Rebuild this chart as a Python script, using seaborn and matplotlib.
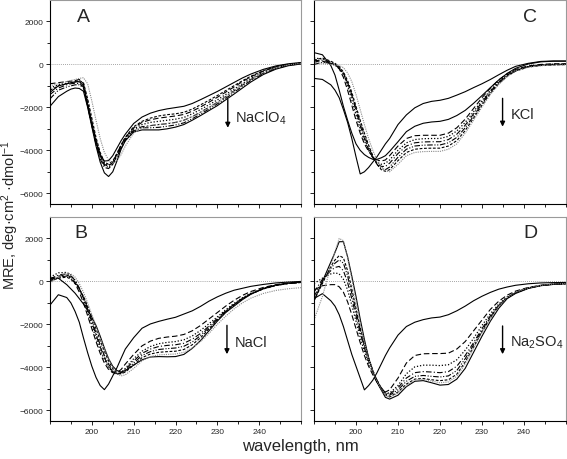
import matplotlib
matplotlib.use('Agg')
import matplotlib.pyplot as plt
import seaborn as sns

# wavelength grid (nm)
wl = [190, 192, 194, 195, 196, 197, 198, 199, 200, 201, 202, 203, 204, 205, 206, 207, 208,
      210, 212, 214, 216, 218, 220, 222, 224, 226, 228, 230, 232, 234, 236, 238,
      241, 244, 247, 250]

# Panel A - NaClO4
A_1 = [-1300, -1000, -900, -850, -820, -800, -1000, -1900, -2800, -3600, -4200, -4500, -4480, -4250, -3900, -3550, -3250,
       -2750, -2450, -2270, -2150, -2070, -2010, -1950, -1820, -1640, -1450, -1260, -1050, -840, -630, -450,
       -230, -70, 30, 90]
A_2 = [-1950, -1500, -1250, -1150, -1100, -1120, -1250, -2000, -2900, -3800, -4550, -5050, -5220, -5000, -4500, -3950, -3550,
       -3150, -3050, -3050, -3050, -3000, -2920, -2800, -2600, -2380, -2150, -1920, -1650, -1380, -1100, -820,
       -470, -220, -60, 20]
A_3 = [-900, -850, -800, -780, -750, -700, -900, -1800, -2700, -3550, -4250, -4650, -4750, -4550, -4150, -3750, -3400,
       -2950, -2700, -2580, -2500, -2450, -2400, -2330, -2180, -1980, -1760, -1530, -1290, -1050, -800, -580,
       -310, -110, 10, 60]
A_4 = [-1100, -950, -880, -850, -820, -800, -950, -1750, -2650, -3500, -4200, -4600, -4700, -4550, -4200, -3800, -3450,
       -3000, -2800, -2700, -2650, -2600, -2550, -2470, -2300, -2100, -1880, -1650, -1400, -1150, -900, -650,
       -360, -140, -10, 50]
A_5 = [-1400, -1100, -950, -900, -880, -900, -1050, -1900, -2800, -3700, -4400, -4800, -4850, -4650, -4250, -3850, -3500,
       -3050, -2900, -2850, -2800, -2760, -2700, -2600, -2430, -2220, -2000, -1760, -1500, -1230, -960, -700,
       -400, -170, -30, 40]
A_6 = [-1600, -1200, -1050, -1000, -950, -950, -1100, -1950, -2850, -3700, -4350, -4700, -4800, -4650, -4300, -3900, -3550,
       -3100, -2950, -2950, -2930, -2880, -2820, -2720, -2530, -2310, -2080, -1840, -1580, -1300, -1020, -750,
       -430, -190, -40, 30]
A_7 = [-1200, -1000, -900, -850, -800, -750, -850, -1600, -2500, -3400, -4100, -4550, -4650, -4500, -4150, -3750, -3400,
       -2900, -2650, -2500, -2400, -2340, -2300, -2230, -2080, -1880, -1670, -1450, -1220, -990, -760, -550,
       -290, -100, 10, 70]
A_8 = [-1000, -900, -800, -750, -700, -650, -620, -900, -1700, -2600, -3450, -4100, -4450, -4600, -4500, -4200, -3800,
       -3200, -2950, -2850, -2800, -2750, -2700, -2600, -2430, -2230, -2000, -1760, -1500, -1230, -960, -700,
       -390, -150, -20, 50]

# Panel B - NaCl
B_1 = [-1100, -620, -750, -1000, -1400, -1900, -2630, -3320, -3950, -4470, -4850, -5040, -4780, -4400, -4020, -3580, -3150,
       -2620, -2180, -1980, -1860, -1760, -1670, -1520, -1370, -1160, -920, -720, -550, -410, -320, -230,
       -140, -70, -30, 0]
B_2 = [120, 150, -150, -350, -550, -800, -1050, -1350, -1650, -2050, -2550, -3100, -3600, -3950, -4150, -4220, -4150,
       -3900, -3650, -3520, -3500, -3510, -3500, -3400, -3120, -2750, -2300, -1850, -1450, -1150, -850, -600,
       -330, -170, -80, -40]
B_3 = [150, 250, 300, 200, -100, -500, -1000, -1600, -2200, -2800, -3350, -3800, -4100, -4250, -4250, -4100, -3850,
       -3400, -3000, -2780, -2650, -2590, -2550, -2470, -2300, -2050, -1750, -1450, -1150, -880, -650, -470,
       -280, -150, -70, -30]
B_4 = [200, 400, 420, 300, 50, -350, -850, -1450, -2050, -2650, -3200, -3650, -4000, -4250, -4330, -4250, -4050,
       -3600, -3250, -3030, -2900, -2840, -2800, -2720, -2540, -2280, -1970, -1650, -1320, -1020, -760, -550,
       -330, -180, -90, -40]
B_5 = [100, 300, 350, 250, 50, -300, -750, -1300, -1900, -2500, -3050, -3550, -3950, -4200, -4300, -4250, -4100,
       -3700, -3350, -3150, -3030, -2980, -2950, -2880, -2690, -2420, -2080, -1720, -1370, -1060, -790, -570,
       -340, -180, -90, -40]
B_6 = [50, 200, 250, 150, -50, -350, -750, -1250, -1800, -2400, -2950, -3450, -3850, -4150, -4300, -4300, -4180,
       -3800, -3450, -3270, -3170, -3130, -3100, -3020, -2820, -2520, -2150, -1770, -1400, -1080, -800, -580,
       -340, -180, -90, -40]
B_7 = [0, 150, 200, 100, -100, -350, -700, -1150, -1650, -2200, -2750, -3250, -3700, -4050, -4250, -4300, -4220,
       -3900, -3550, -3380, -3300, -3270, -3250, -3170, -2950, -2620, -2220, -1800, -1420, -1090, -810, -590,
       -350, -190, -100, -50]
B_8 = [-100, 250, 380, 350, 200, -100, -500, -1000, -1550, -2100, -2650, -3150, -3600, -4000, -4300, -4400, -4350,
       -4050, -3700, -3500, -3420, -3400, -3380, -3300, -3100, -2800, -2420, -2000, -1620, -1280, -1000, -780,
       -560, -420, -340, -290]

# Panel C - KCl
C_1 = [-650, -700, -950, -1200, -1550, -2100, -2700, -3450, -4300, -5100, -5000, -4800, -4550, -4300, -4000, -3700, -3450,
       -2800, -2350, -2020, -1820, -1720, -1670, -1580, -1430, -1270, -1080, -900, -700, -480, -270, -90,
       50, 140, 160, 160]
C_2 = [550, 450, -50, -500, -1200, -1950, -2600, -3200, -3700, -4000, -4200, -4330, -4420, -4420, -4350, -4250, -4050,
       -3600, -3130, -2880, -2740, -2680, -2650, -2560, -2380, -2140, -1810, -1450, -1080, -720, -420, -180,
       20, 120, 150, 150]
C_3 = [200, 150, 50, 0, -200, -600, -1200, -1900, -2600, -3200, -3700, -4050, -4300, -4450, -4500, -4450, -4250,
       -3800, -3450, -3320, -3300, -3300, -3300, -3200, -2950, -2550, -2050, -1550, -1100, -720, -430, -230,
       -70, 0, 30, 30]
C_4 = [300, 250, 100, 0, -150, -450, -1000, -1650, -2350, -3000, -3550, -4000, -4350, -4550, -4650, -4600, -4450,
       -4000, -3650, -3500, -3460, -3450, -3450, -3350, -3100, -2700, -2200, -1680, -1200, -790, -480, -260,
       -90, -20, 10, 20]
C_5 = [100, 200, 100, 0, -150, -400, -850, -1450, -2150, -2850, -3450, -3950, -4350, -4600, -4750, -4750, -4600,
       -4150, -3800, -3650, -3610, -3600, -3600, -3500, -3250, -2830, -2300, -1750, -1250, -830, -500, -280,
       -100, -30, 0, 10]
C_6 = [0, 100, 50, -50, -200, -450, -850, -1400, -2050, -2700, -3300, -3850, -4300, -4650, -4850, -4900, -4780,
       -4320, -3950, -3800, -3760, -3750, -3750, -3650, -3400, -2950, -2400, -1830, -1300, -870, -530, -300,
       -110, -40, -10, 0]
C_7 = [200, 300, 150, 50, -100, -350, -750, -1300, -1950, -2600, -3200, -3750, -4250, -4650, -4900, -4980, -4900,
       -4480, -4100, -3950, -3910, -3900, -3900, -3800, -3550, -3080, -2500, -1900, -1350, -900, -550, -310,
       -120, -50, -20, -10]
C_8 = [100, 50, 0, 0, -50, -150, -400, -800, -1400, -2100, -2800, -3450, -4000, -4450, -4750, -4950, -5000,
       -4650, -4250, -4100, -4060, -4050, -4050, -3950, -3700, -3200, -2600, -1980, -1400, -930, -570, -320,
       -130, -60, -30, -20]

# Panel D - Na2SO4
D_1 = [-800, -570, -900, -1150, -1550, -2100, -2750, -3400, -3950, -4500, -5050, -4850, -4600, -4250, -3850, -3450, -3100,
       -2500, -2100, -1900, -1780, -1700, -1660, -1550, -1370, -1150, -900, -690, -510, -360, -260, -180,
       -110, -70, -55, -50]
D_2 = [-900, 0, 900, 1350, 1850, 1850, 1150, 250, -700, -1750, -2700, -3550, -4200, -4700, -5050, -5400, -5480,
       -5300, -4900, -4650, -4620, -4720, -4830, -4800, -4550, -4050, -3300, -2550, -1850, -1250, -800, -560,
       -330, -200, -140, -110]
D_3 = [-400, -200, -150, -150, -250, -500, -950, -1550, -2200, -2850, -3450, -3950, -4350, -4700, -5000, -5150, -5050,
       -4500, -3800, -3450, -3370, -3360, -3360, -3340, -3150, -2800, -2300, -1800, -1300, -920, -640, -450,
       -280, -180, -120, -100]
D_4 = [-100, 150, 350, 400, 350, 100, -400, -1100, -1850, -2600, -3250, -3800, -4250, -4650, -4950, -5200, -5200,
       -4850, -4300, -3980, -3900, -3900, -3920, -3880, -3650, -3200, -2650, -2050, -1500, -1050, -720, -500,
       -300, -190, -130, -100]
D_5 = [-500, 100, 500, 650, 700, 500, -50, -800, -1600, -2400, -3100, -3700, -4200, -4600, -4950, -5200, -5250,
       -4950, -4500, -4250, -4200, -4220, -4250, -4200, -3950, -3450, -2850, -2200, -1600, -1100, -750, -520,
       -310, -190, -130, -100]
D_6 = [-700, 0, 600, 850, 1000, 850, 250, -550, -1400, -2250, -3000, -3600, -4150, -4600, -4950, -5250, -5300,
       -5050, -4650, -4420, -4380, -4420, -4450, -4400, -4150, -3600, -2950, -2280, -1650, -1120, -760, -530,
       -310, -190, -130, -100]
D_7 = [-900, -100, 700, 1000, 1200, 1100, 500, -350, -1250, -2150, -2900, -3550, -4150, -4650, -5000, -5300, -5380,
       -5150, -4780, -4550, -4520, -4580, -4620, -4580, -4320, -3750, -3050, -2350, -1700, -1150, -770, -530,
       -310, -190, -130, -100]
D_8 = [-1800, -700, 700, 1400, 2000, 1900, 1100, 100, -900, -1950, -2850, -3600, -4200, -4650, -5000, -5300, -5400,
       -5200, -4850, -4600, -4560, -4640, -4720, -4680, -4420, -3850, -3100, -2400, -1750, -1150, -750, -500,
       -300, -180, -120, -100]

panel_letters = ['A', 'B', 'C', 'D']
salt_labels = ['NaClO$_4$', 'NaCl', 'KCl', 'Na$_2$SO$_4$']
x_ticks = [200, 210, 220, 230, 240]
y_ticks = [-6000, -4000, -2000, 0, 2000]
x_label = 'wavelength, nm'
y_label = 'MRE, deg·cm$^2$ ·dmol$^{-1}$'

panels = {'A': [A_1, A_2, A_3, A_4, A_5, A_6, A_7, A_8],
          'B': [B_1, B_2, B_3, B_4, B_5, B_6, B_7, B_8],
          'C': [C_1, C_2, C_3, C_4, C_5, C_6, C_7, C_8],
          'D': [D_1, D_2, D_3, D_4, D_5, D_6, D_7, D_8]}

sns.set_style('ticks')
plt.rcParams['font.family'] = ['Liberation Sans', 'DejaVu Sans']
plt.rcParams['mathtext.default'] = 'regular'

line_styles = [
    ('-', 'black', 0.8),
    ('-', 'black', 0.8),
    ((0, (5, 2.5)), 'black', 0.8),
    ((0, (1, 1.5)), 'black', 0.9),
    ((0, (5, 2, 1, 2)), 'black', 0.8),
    ((0, (5, 1.5, 1, 1.5, 1, 1.5)), 'black', 0.8),
    ((0, (2.5, 1.5)), 'black', 0.8),
    ((0, (1, 1)), '#8a8a8a', 0.8),
]

W, H = 567.0, 460.0
positions = {
    'A': [50 / W, 1 - 205 / H, 251 / W, 204 / H],
    'B': [50 / W, 1 - 422 / H, 251 / W, 204 / H],
    'C': [314 / W, 1 - 205 / H, 252 / W, 204 / H],
    'D': [314 / W, 1 - 422 / H, 252 / W, 204 / H],
}
letter_pos = {'A': (197.9, 2230), 'B': (197.3, 2260), 'C': (241.4, 2250), 'D': (241.6, 2300)}
arrow_pos = {'A': (232.5, -1630, -2950), 'B': (232.3, -2045, -3390),
             'C': (234.9, -1580, -2900), 'D': (234.9, -2075, -3390)}
salt_pos = {'A': (234.2, -2480), 'B': (234.2, -2820), 'C': (236.9, -2325), 'D': (236.7, -2820)}

fig = plt.figure(figsize=(W / 100, H / 100), dpi=100)

for key, salt in zip(panel_letters, salt_labels):
    ax = fig.add_axes(positions[key])
    ax.axhline(0, color='#888888', lw=0.6, ls=(0, (1, 1.5)), zorder=0)
    for vals, (ls, col, lw) in zip(panels[key], line_styles):
        sns.lineplot(x=wl, y=vals, ax=ax, color=col, lw=lw, linestyle=ls,
                     estimator=None, sort=False, legend=False)
    ax.set_xlim(190, 250)
    ax.set_ylim(-6500, 3000)
    ax.set_xticks(x_ticks)
    ax.set_xticks([190, 195, 205, 215, 225, 235, 245, 250], minor=True)
    ax.set_yticks(y_ticks)
    ax.set_yticks([-5000, -3000, -1000, 1000], minor=True)
    ax.set_xlabel('')
    ax.set_ylabel('')
    ax.tick_params(which='major', direction='out', length=3, width=0.6, labelsize=6, pad=2, color='black')
    ax.tick_params(which='minor', direction='out', length=2, width=0.6, color='black')
    ax.tick_params(axis='x', labelbottom=key in ('B', 'D'))
    ax.tick_params(axis='y', labelleft=key in ('A', 'B'))
    for s in ('left', 'bottom'):
        ax.spines[s].set_color('black')
        ax.spines[s].set_linewidth(0.8)
    for s in ('top', 'right'):
        ax.spines[s].set_color('#9a9a9a')
        ax.spines[s].set_linewidth(0.8)
    lx, ly = letter_pos[key]
    ax.text(lx, ly, key, fontsize=14, ha='center', va='center')
    axx, y0, y1 = arrow_pos[key]
    ax.annotate('', xy=(axx, y1), xytext=(axx, y0),
                arrowprops=dict(arrowstyle='-|>', color='black', lw=1.0, mutation_scale=7,
                                shrinkA=0, shrinkB=0))
    sx, sy = salt_pos[key]
    ax.text(sx, sy, salt, fontsize=10.5, ha='left', va='center')

fig.text(300 / W, 1 - 447 / H, x_label, fontsize=12, ha='center', va='center')
fig.text(10 / W, 1 - 215 / H, y_label, fontsize=10.5, ha='center', va='center', rotation=90)

fig.savefig('out.png', dpi=100)
